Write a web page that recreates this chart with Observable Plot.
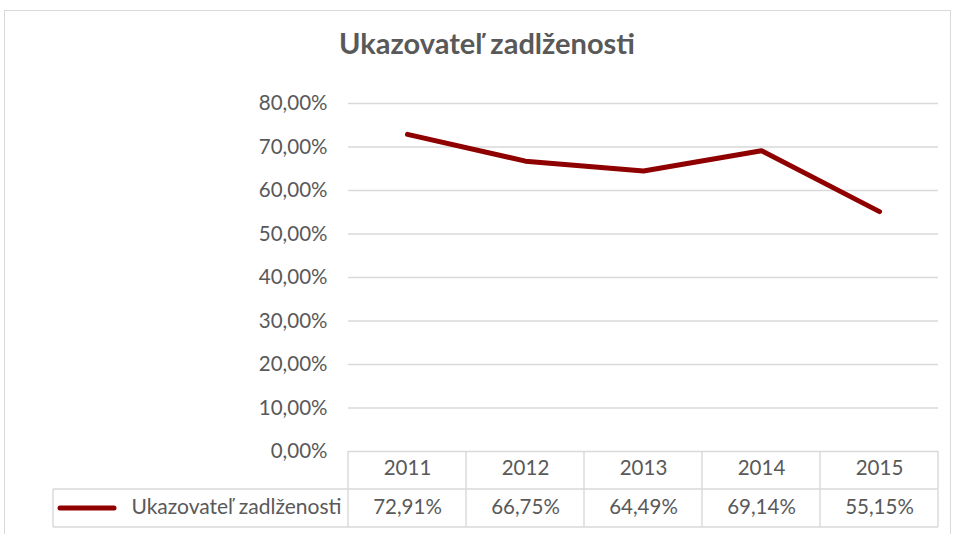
<!DOCTYPE html>
<html><head><meta charset="utf-8">
<script src="https://cdn.jsdelivr.net/npm/d3@7"></script>
<script src="https://cdn.jsdelivr.net/npm/@observablehq/plot@0.6"></script>
<style>
body{margin:0;background:#fff}
#wrap{position:relative;width:956px;height:534px;overflow:hidden;font-family:Lato,"Open Sans",sans-serif}
#frame{position:absolute;left:4px;top:10px;width:947px;height:600px;border:1px solid #d9d9d9;box-sizing:border-box}
#title{position:absolute;top:25px;left:0;width:974px;text-align:center;font-size:29px;font-weight:bold;color:#595959;margin:0;line-height:36px}
#chart{position:absolute;left:0;top:0}
</style></head>
<body>
<div id="wrap"><div id="frame"></div><h2 id="title">Ukazovateľ zadlženosti</h2><div id="chart"></div></div>
<script>
const years = ["2011", "2012", "2013", "2014", "2015"];
const values = [72.91, 66.75, 64.49, 69.14, 55.15];
const yTicks = [0, 10, 20, 30, 40, 50, 60, 70, 80];
const seriesName = "Ukazovateľ zadlženosti";
const lineColor = "#8f0000";
const gridColor = "#d9d9d9";
const textColor = "#595959";
const fs = 20.5;

const data = years.map((y, i) => ({year: y, value: values[i]}));
const fmt = v => v.toFixed(2).replace(".", ",") + "%";

const chart = Plot.plot({
  width: 956, height: 534,
  marginLeft: 348, marginRight: 18, marginTop: 103, marginBottom: 83,
  style: {fontFamily: "Lato, 'Open Sans', sans-serif", fontSize: fs + "px", color: textColor, background: "transparent", overflow: "visible"},
  x: {type: "point", domain: years, padding: 0.5, axis: null},
  y: {domain: [0, 80], ticks: yTicks, tickFormat: fmt, tickSize: 0, tickPadding: 21, label: null},
  marks: [
    Plot.ruleY(yTicks, {stroke: gridColor, strokeWidth: 1.4}),
    Plot.line(data, {x: "year", y: "value", stroke: lineColor, strokeWidth: 5, strokeLinecap: "round", strokeLinejoin: "round"}),
    Plot.text(years, {x: d => d, text: d => d, frameAnchor: "bottom", dy: 23, fill: textColor, fontSize: fs}),
    Plot.text(data, {x: "year", text: d => fmt(d.value), frameAnchor: "bottom", dy: 62, fill: textColor, fontSize: fs}),
    Plot.text([seriesName], {text: d => d, frameAnchor: "bottom-left", textAnchor: "end", dx: -7, dy: 62, fill: textColor, fontSize: fs + 0.5, letterSpacing: "0.4px"})
  ]
});
document.getElementById("chart").appendChild(chart);

// data table grid + legend key, positioned from the Plot scales
const xs = chart.scale("x");
const ys = chart.scale("y");
const step = xs.step;
const y0 = ys.apply(0);
const rowH = 38;
const right = xs.apply(years[years.length - 1]) + step / 2;
const legendLeft = 53;
const svg = d3.select(chart);
const g = svg.append("g").attr("stroke", gridColor).attr("stroke-width", 1.4);
const edges = years.map(y => xs.apply(y) - step / 2).concat([right]);
edges.forEach(x => g.append("line").attr("x1", x).attr("x2", x).attr("y1", y0).attr("y2", y0 + 2 * rowH));
g.append("line").attr("x1", legendLeft).attr("x2", legendLeft).attr("y1", y0 + rowH).attr("y2", y0 + 2 * rowH);
[1, 2].forEach(r => g.append("line").attr("x1", legendLeft).attr("x2", right).attr("y1", y0 + r * rowH).attr("y2", y0 + r * rowH));
svg.append("line").attr("x1", 60).attr("x2", 114).attr("y1", y0 + 57).attr("y2", y0 + 57)
  .attr("stroke", lineColor).attr("stroke-width", 5).attr("stroke-linecap", "round");
</script>
</body></html>
